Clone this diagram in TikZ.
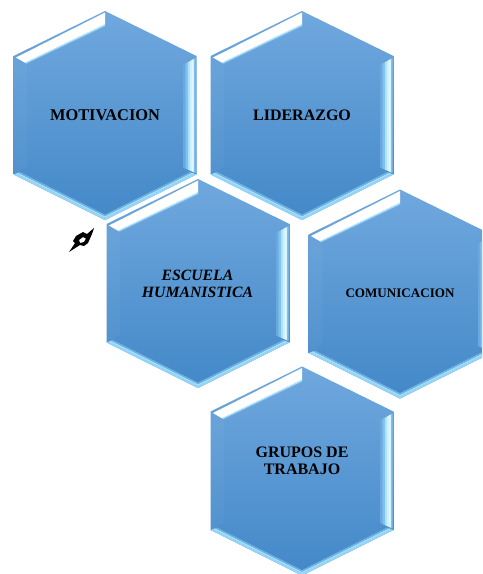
\documentclass[tikz,border=0pt]{standalone}
\usepackage{fontspec}
\setmainfont{Liberation Serif}
\usepackage{tikz}
\usetikzlibrary{calc}
\definecolor{hexTop}{HTML}{70A8DE}
\definecolor{hexBottom}{HTML}{4388C8}
\definecolor{hexMid}{HTML}{5F9EDB}
\definecolor{hexGlow}{HTML}{A5E3FF}
\tikzset{
    hexlabel/.style={font=\bfseries\fontsize{12pt}{12.4pt}\selectfont, align=center, text=black},
}
% one band of a bevel, from edge (#1)--(#2) to edge (#3)--(#4)
\newcommand{\bevelband}[5]{
    \foreach \from/\to/\bandcol in {#5}{
        \fill[\bandcol] ($(#1)!\from!(#3)$) -- ($(#2)!\from!(#4)$) -- ($(#2)!\to!(#4)$) -- ($(#1)!\to!(#3)$) -- cycle;
    }
}
% one hexagon round its centre
\newcommand{\hexcell}[2]{
    \begin{scope}[shift={(#1,#2)}]
        \shade[top color=hexTop, bottom color=hexBottom] (0,-104.5) -- (91.5,-59.5) -- (91.5,59) -- (0,104.5) -- (-91.5,59) -- (-91.5,-59.5) -- cycle;
        % soft bevels
        \fill[white, opacity=0.03] (-91.5,-59.5) -- (-78,-51) -- (-78,51) -- (-91.5,59) -- cycle;
        % top left highlight
        \bevelband{0,-103}{-89,-58}{0,-88.5}{-78,-51.5}{0/.8/white,.8/.86/white!50!hexGlow,.86/.92/hexGlow,.92/.96/hexGlow!55!hexMid,.96/1/hexGlow!20!hexMid}
        % right highlight
        \bevelband{78,-50.5}{78,52}{90.5,-57.5}{90.5,57.5}{0/.18/hexMid!85!hexGlow,.18/.36/hexMid!50!hexGlow,.36/.54/hexGlow,.54/.72/hexGlow!50!white,.72/.86/white!70!hexGlow,.86/1/hexGlow!50!hexMid}
        % bottom glow
        \bevelband{-91.5,59}{0,104.5}{-85,56.5}{0,99}{0/.4/hexGlow!80!hexMid,.4/.7/hexGlow,1/.7/hexGlow!45!hexBottom}
        \bevelband{91.5,59}{0,104.5}{85,56.5}{0,99}{0/.4/hexGlow!80!hexMid,.4/.7/hexGlow,1/.7/hexGlow!45!hexBottom}
    \end{scope}
}
\begin{document}
\begin{tikzpicture}[x=0.75pt,y=-0.75pt]
    \useasboundingbox (0,0) rectangle (482,574);
    \begin{scope}
        \clip (0,0) rectangle (482,574);
        \hexcell{105}{115.5}
        \hexcell{302}{115.5}
        \hexcell{198}{283.5}
        \hexcell{400}{294}
        \hexcell{302}{471}
    \end{scope}
    \node[hexlabel, font=\bfseries\fontsize{12.3pt}{13pt}\selectfont] (motivacion) at (105,115.5) {MOTIVACION};
    \node[hexlabel] (liderazgo) at (302,115.5) {LIDERAZGO};
    \node[hexlabel, font=\bfseries\itshape\fontsize{11.8pt}{12.7pt}\selectfont] (escuela) at (197.5,283.5) {ESCUELA\\HUMANISTICA};
    \node[hexlabel, font=\bfseries\fontsize{9.8pt}{11pt}\selectfont] (comunicacion) at (400,293) {COMUNICACION};
    \node[hexlabel] (grupos) at (302,461) {GRUPOS DE\\TRABAJO};
    % small mark beside the third hexagon
    \fill[black, even odd rule] (94,228) -- (92,234) -- (88,243) -- (84,246) -- (80,245) -- (69,252) -- (75,243) -- (73,241) -- (76,236) -- (83,232) -- (87,234) -- cycle
        (79,240) -- (83,237) -- (86,238.5) -- (84,242) -- (80,243) -- cycle;
\end{tikzpicture}
\end{document}
